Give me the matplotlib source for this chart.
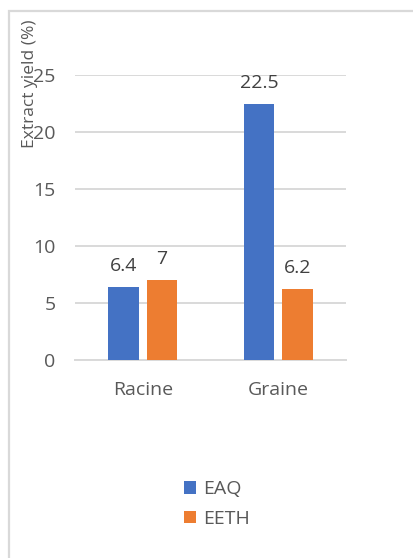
import matplotlib
matplotlib.use("Agg")
import matplotlib.pyplot as plt
from matplotlib.patches import Rectangle
import numpy as np

categories = ["Racine", "Graine"]
series_names = ["EAQ", "EETH"]
eaq = [6.4, 22.5]
eeth = [7, 6.2]
value_labels_eaq = ["6.4", "22.5"]
value_labels_eeth = ["7", "6.2"]
y_ticks = [0, 5, 10, 15, 20, 25]
colors = ["#4472C4", "#ED7D31"]
text_color = "#595959"

plt.rcParams["font.family"] = ["Open Sans", "DejaVu Sans"]

W, H = 414, 558
fig = plt.figure(figsize=(W / 100, H / 100), dpi=100)

# chart frame (only top and left edges visible)
frame = Rectangle((9 / W, -0.1), 1.2, (H - 11) / H + 0.1, transform=fig.transFigure,
                  fill=False, edgecolor="#d9d9d9", linewidth=1.6, zorder=0)
fig.patches.append(frame)

ax = fig.add_axes([75 / W, 1 - 360 / H, (346 - 75) / W, (360 - 75) / H])

x = np.arange(len(categories))
width = 0.225
offset = 0.143
b1 = ax.bar(x - offset, eaq, width, color=colors[0], label=series_names[0], zorder=3)
b2 = ax.bar(x + offset, eeth, width, color=colors[1], label=series_names[1], zorder=3)

for bars, labels in ((b1, value_labels_eaq), (b2, value_labels_eeth)):
    for rect, lab in zip(bars, labels):
        ax.annotate(lab, (rect.get_x() + rect.get_width() / 2, rect.get_height()),
                    xytext=(0, 11.5), textcoords="offset points",
                    ha="center", va="baseline", fontsize=14, color="#404040")

ax.set_xlim(-0.5, 1.5)
ax.set_ylim(0, 25)
ax.set_yticks(y_ticks)
ax.set_xticks(x)
ax.set_xticklabels(categories)
ax.tick_params(axis="y", length=0, pad=14, labelsize=14, labelcolor=text_color)
ax.tick_params(axis="x", length=0, pad=15, labelsize=14, labelcolor=text_color)
ax.yaxis.grid(True, color="#d9d9d9", linewidth=1.4, zorder=0)
ax.set_axisbelow(True)
for side in ("top", "right", "left"):
    ax.spines[side].set_visible(False)
ax.spines["bottom"].set_color("#d9d9d9")
ax.spines["bottom"].set_linewidth(1.4)

fig.text(30 / W, 1 - 84 / H, "Extract yield (%)", rotation=90, ha="center", va="center",
         fontsize=12.5, color=text_color)

leg = fig.legend(handles=[b1, b2], labels=series_names, loc="center",
                 bbox_to_anchor=(217 / W, 1 - 504 / H), frameon=False,
                 fontsize=14, labelcolor=text_color, handlelength=0.62, handleheight=0.62,
                 handletextpad=0.4, labelspacing=0.6)

fig.savefig("out.png", dpi=100)
